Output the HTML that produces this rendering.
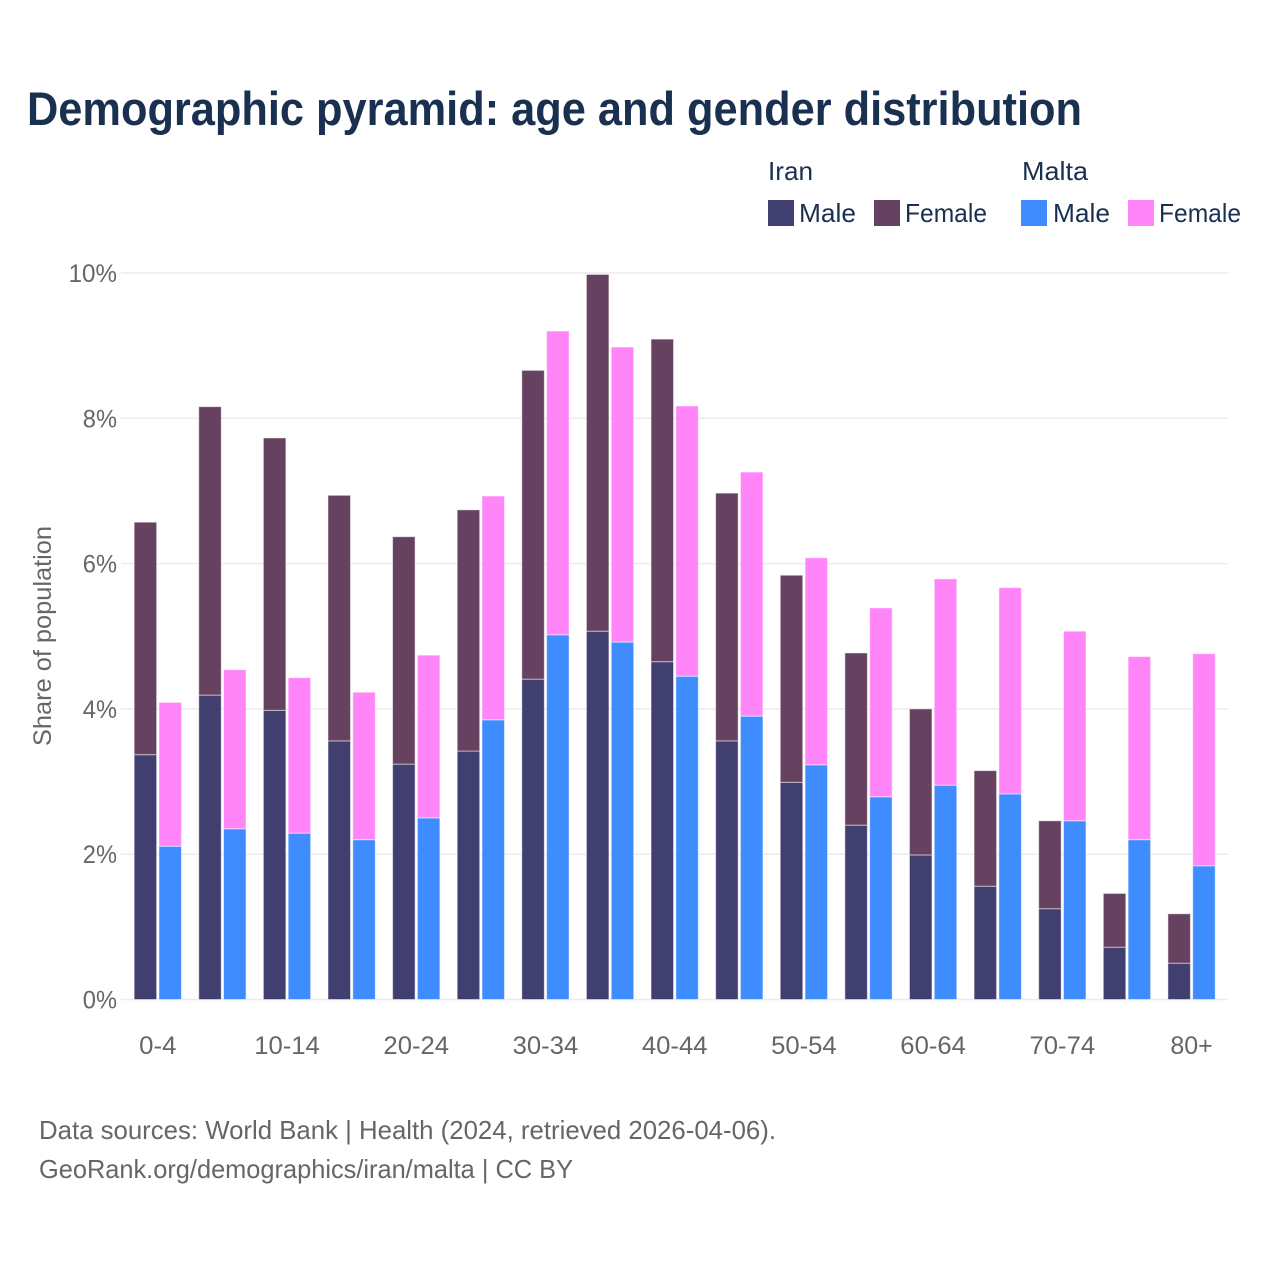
<!DOCTYPE html>
<html lang="en">
<head>
<meta charset="utf-8">
<title>Demographic pyramid: age and gender distribution</title>
<style>
html,body{margin:0;padding:0;background:#fff;width:1280px;height:1280px;overflow:hidden}
svg{display:block}
text{font-family:"Liberation Sans",sans-serif}
.dark{fill:#1a3050}
.grey{fill:#666666}
</style>
</head>
<body>
<svg id="chart" width="1280" height="1280" viewBox="0 0 1280 1280" xmlns="http://www.w3.org/2000/svg">
  <rect width="1280" height="1280" fill="#ffffff"/>
  <text class="dark" x="27" y="125" font-size="47" font-weight="700" textLength="1055" lengthAdjust="spacingAndGlyphs">Demographic pyramid: age and gender distribution</text>

  <g font-size="26">
    <text class="dark" x="768" y="180" textLength="45" lengthAdjust="spacingAndGlyphs">Iran</text>
    <text class="dark" x="1022" y="180" textLength="66" lengthAdjust="spacingAndGlyphs">Malta</text>
    <rect x="768" y="200" width="26" height="26" fill="#413f70"/>
    <text class="dark" x="799" y="222" textLength="57" lengthAdjust="spacingAndGlyphs">Male</text>
    <rect x="874" y="200" width="26" height="26" fill="#674160"/>
    <text class="dark" x="905" y="222" textLength="82" lengthAdjust="spacingAndGlyphs">Female</text>
    <rect x="1021" y="200" width="26" height="26" fill="#3f8cff"/>
    <text class="dark" x="1053" y="222" textLength="57" lengthAdjust="spacingAndGlyphs">Male</text>
    <rect x="1128" y="200" width="26" height="26" fill="#ff85f8"/>
    <text class="dark" x="1159" y="222" textLength="82" lengthAdjust="spacingAndGlyphs">Female</text>
  </g>

  <g id="grid"></g>
  <g id="yticks"></g>
  <g id="bars"></g>
  <g id="xticks"></g>

  <text class="grey" font-size="25" transform="translate(51 746) rotate(-90)" x="0" y="0" textLength="220" lengthAdjust="spacingAndGlyphs">Share of population</text>

  <text class="grey" x="39" y="1139" font-size="26" textLength="737" lengthAdjust="spacingAndGlyphs">Data sources: World Bank | Health (2024, retrieved 2026-04-06).</text>
  <text class="grey" x="39" y="1178" font-size="26" textLength="534" lengthAdjust="spacingAndGlyphs">GeoRank.org/demographics/iran/malta | CC BY</text>
</svg>
<script>
const categories = ["0-4","5-9","10-14","15-19","20-24","25-29","30-34","35-39","40-44","45-49","50-54","55-59","60-64","65-69","70-74","75-79","80+"];
const xTickLabels = ["0-4","10-14","20-24","30-34","40-44","50-54","60-64","70-74","80+"];
const yTicks = [0,2,4,6,8,10];
const iranMale = [3.37,4.19,3.98,3.56,3.24,3.42,4.41,5.07,4.65,3.56,2.99,2.40,1.99,1.56,1.25,0.72,0.50];
const iranFemale = [3.20,3.97,3.75,3.38,3.13,3.32,4.25,4.91,4.44,3.41,2.85,2.37,2.01,1.59,1.21,0.74,0.68];
const maltaMale = [2.11,2.35,2.29,2.20,2.50,3.85,5.02,4.92,4.45,3.90,3.23,2.79,2.95,2.83,2.46,2.20,1.84];
const maltaFemale = [1.98,2.19,2.14,2.03,2.24,3.08,4.18,4.06,3.72,3.36,2.85,2.60,2.84,2.84,2.61,2.52,2.92];

const NS = "http://www.w3.org/2000/svg";
const plotLeft = 121, plotRight = 1228;
function yScale(v){ return 999.5 - v * 72.65; }
function xCenter(i){ return 157.8 + i * 64.61; }
const barWidth = 22.5, barGap = 2.3;

function labelWidth(s){
  let w = 0;
  for (const c of s) {
    if (c === "-") w += 8.8;
    else if (c === "%") w += 20;
    else if (c === "+") w += 14;
    else w += 14.2;
  }
  return w;
}

const grid = document.getElementById("grid");
const yTickGroup = document.getElementById("yticks");
yTicks.forEach(function(t){
  const line = document.createElementNS(NS, "line");
  
  
  line.setAttribute("x1", plotLeft);
  line.setAttribute("x2", plotRight);
  line.setAttribute("y1", yScale(t));
  line.setAttribute("y2", yScale(t));
  line.setAttribute("stroke", "#ebebeb");
  line.setAttribute("stroke-width", "1.5");
  grid.appendChild(line);

  const label = document.createElementNS(NS, "text");
  const str = t + "%";
  
  
  label.setAttribute("class", "grey");
  label.setAttribute("font-size", "25");
  label.setAttribute("x", 117 - labelWidth(str));
  label.setAttribute("y", yScale(t) + 9);
  label.setAttribute("textLength", labelWidth(str));
  label.setAttribute("lengthAdjust", "spacingAndGlyphs");
  label.textContent = str;
  yTickGroup.appendChild(label);
});

const barGroup = document.getElementById("bars");
function addBar(x, base, value, fill, name){
  const rect = document.createElementNS(NS, "rect");
  const top = yScale(base + value);
  
  
  rect.setAttribute("x", x);
  rect.setAttribute("y", top);
  rect.setAttribute("width", barWidth);
  rect.setAttribute("height", yScale(base) - top);
  rect.setAttribute("fill", fill);
  rect.setAttribute("stroke", "rgba(255,255,255,0.5)");
  rect.setAttribute("stroke-width", "1");
  barGroup.appendChild(rect);
}
categories.forEach(function(cat, i){
  const c = xCenter(i);
  const leftX = c - barGap / 2 - barWidth;
  const rightX = c + barGap / 2;
  addBar(leftX, 0, iranMale[i], "#413f70", "bar-iran-male");
  addBar(leftX, iranMale[i], iranFemale[i], "#674160", "bar-iran-female");
  addBar(rightX, 0, maltaMale[i], "#3f8cff", "bar-malta-male");
  addBar(rightX, maltaMale[i], maltaFemale[i], "#ff85f8", "bar-malta-female");
});

const xTickGroup = document.getElementById("xticks");
xTickLabels.forEach(function(lbl){
  const i = categories.indexOf(lbl);
  const w = labelWidth(lbl);
  const label = document.createElementNS(NS, "text");
  
  
  label.setAttribute("class", "grey");
  label.setAttribute("font-size", "25");
  label.setAttribute("x", xCenter(i) - w / 2);
  label.setAttribute("y", 1054);
  label.setAttribute("textLength", w);
  label.setAttribute("lengthAdjust", "spacingAndGlyphs");
  label.textContent = lbl;
  xTickGroup.appendChild(label);
});
</script>
</body>
</html>
